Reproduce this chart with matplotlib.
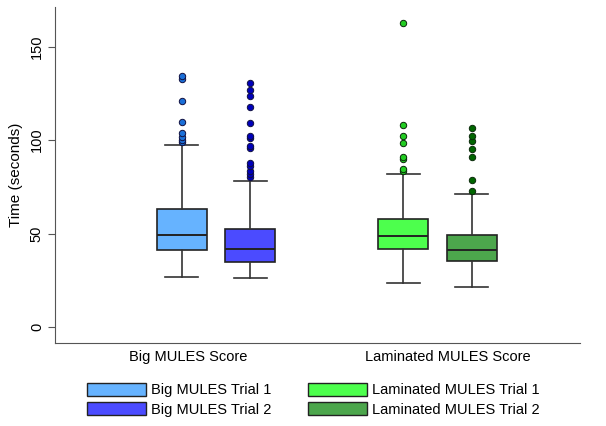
import matplotlib.pyplot as plt
from matplotlib.patches import Patch

plt.rcParams["font.family"] = ["Liberation Sans", "DejaVu Sans"]

# Cinco números de cada caja
labels = ["Big MULES Trial 1", "Big MULES Trial 2",
          "Laminated MULES Trial 1", "Laminated MULES Trial 2"]
whislo = [26.9, 26.0, 23.4, 21.6]
q1 = [41.0, 35.0, 41.9, 35.3]
med = [49.4, 41.9, 48.5, 41.0]
q3 = [63.2, 52.5, 57.6, 49.1]
whishi = [97.2, 78.2, 81.9, 71.0]
fliers = [
    [99.0, 100.1, 101.9, 103.7, 109.9, 121.0, 132.8, 134.4],
    [80.1, 81.9, 83.7, 86.4, 87.8, 95.8, 97.1, 101.4, 102.1, 109.0,
     117.9, 123.5, 127.0, 130.6],
    [83.5, 84.6, 90.1, 91.2, 98.7, 102.1, 108.3, 162.9],
    [73.0, 78.9, 90.8, 95.1, 99.4, 102.2, 106.5],
]
groups = ["Big MULES Score", "Laminated MULES Score"]

box_colors = ["#66b3ff", "#4b4bff", "#4dff4d", "#4ca64c"]
flier_colors = ["#1a6fd8", "#0000bb", "#22cc22", "#006600"]
positions = [181.7, 250.0, 403.3, 471.7]

stats = []
for i in range(4):
    stats.append(dict(label=labels[i], whislo=whislo[i], q1=q1[i], med=med[i],
                      q3=q3[i], whishi=whishi[i], fliers=fliers[i]))

fig = plt.figure(figsize=(6.06, 4.26), dpi=100)
ax = fig.add_axes([55 / 606, 1 - 343 / 426, 525 / 606, 336 / 426])

bp = ax.bxp(stats, positions=positions, widths=50, patch_artist=True,
            showfliers=True, manage_ticks=False,
            boxprops=dict(linewidth=1.2, edgecolor="#222222"),
            medianprops=dict(color="#222222", linewidth=1.4),
            whiskerprops=dict(color="#333333", linewidth=1.2),
            capprops=dict(color="#333333", linewidth=1.2))
for i, box in enumerate(bp["boxes"]):
    box.set_facecolor(box_colors[i])
for i, fl in enumerate(bp["fliers"]):
    fl.set(marker="o", markersize=4.6, markerfacecolor=flier_colors[i],
           markeredgecolor="#0a2a0a" if i >= 2 else "#101040",
           markeredgewidth=0.7)
for cap in bp["caps"]:
    x = cap.get_xdata()
    c = (x[0] + x[1]) / 2
    cap.set_xdata([c - 16.5, c + 16.5])

ax.set_xlim(55, 580)
ax.set_ylim(-8.6, 171.3)
ax.set_yticks([0, 50, 100, 150])
ax.set_xticks([])
ax.tick_params(axis="y", labelrotation=90, labelsize=10.5, length=5,
               color="#555555", pad=3)
for t in ax.get_yticklabels():
    t.set_va("center")
ax.set_ylabel("Time (seconds)", fontsize=11, labelpad=5)
for s in ["top", "right"]:
    ax.spines[s].set_visible(False)
ax.spines["left"].set_color("#555555")
ax.spines["bottom"].set_color("#555555")

# etiquetas de grupo
fig.text(188 / 606, 1 - 357 / 426, groups[0], ha="center", va="center", fontsize=10.5)
fig.text(448 / 606, 1 - 357 / 426, groups[1], ha="center", va="center", fontsize=10.5)

# leyenda: una columna por grupo
h = [Patch(facecolor=box_colors[i], edgecolor="#222222", linewidth=1) for i in range(4)]
legend_kw = dict(loc="upper left", frameon=False, fontsize=10.5, handlelength=4.05,
                 handleheight=0.97, handletextpad=0.35, labelspacing=0.33,
                 borderpad=0, borderaxespad=0)
fig.legend(h[:2], labels[:2], bbox_to_anchor=(87 / 606, 1 - 383 / 426), **legend_kw)
fig.legend(h[2:], labels[2:], bbox_to_anchor=(308 / 606, 1 - 383 / 426), **legend_kw)

fig.savefig("out.png", dpi=100)
